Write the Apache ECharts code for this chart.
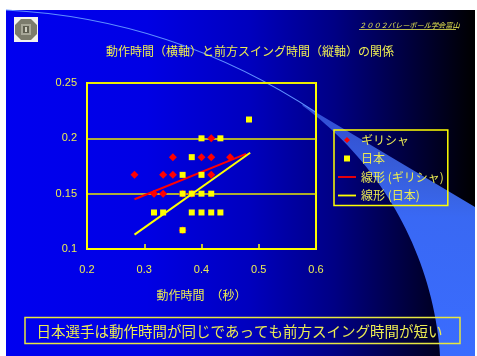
<!DOCTYPE html>
<html>
<head>
<meta charset="utf-8">
<script src="https://cdn.jsdelivr.net/npm/echarts@6/dist/echarts.min.js"></script>
<style>
  html, body { margin: 0; padding: 0; background: #ffffff; }
  #chart { width: 477px; height: 356px; }
</style>
</head>
<body>
<div id="chart"></div>
<script>
// Axis tick labels (seconds)
const xTickLabels = ['0.2', '0.3', '0.4', '0.5', '0.6'];
const yTickLabels = ['0.1', '0.15', '0.2', '0.25'];

// Greek players: motion time (x) vs forward swing time (y)
const greeceTime  = [0.283, 0.317, 0.333, 0.333, 0.35, 0.35, 0.4, 0.417, 0.417, 0.417, 0.45, 0.367, 0.367, 0.383];
const greeceSwing = [0.167, 0.15, 0.15, 0.167, 0.167, 0.183, 0.183, 0.183, 0.2, 0.167, 0.183, 0.117, 0.15, 0.15];

// Japanese players
const japanTime  = [0.483, 0.4, 0.433, 0.383, 0.367, 0.4, 0.367, 0.383, 0.4, 0.417, 0.317, 0.333, 0.383, 0.4, 0.417, 0.433, 0.367];
const japanSwing = [0.217, 0.2, 0.2, 0.183, 0.167, 0.167, 0.15, 0.15, 0.15, 0.15, 0.133, 0.133, 0.133, 0.133, 0.133, 0.133, 0.117];

// Linear trend lines (end points)
const greeceFitTime  = [0.283, 0.478];
const greeceFitSwing = [0.145, 0.186];
const japanFitTime   = [0.283, 0.485];
const japanFitSwing  = [0.113, 0.187];

const seriesNames = ['ギリシャ', '日本', '線形 (ギリシャ)', '線形 (日本)'];

const titleText = '動作時間（横軸）と前方スイング時間（縦軸）の関係';
const headerText = '２００２バレーボール学会富山';
const xAxisName = '動作時間　（秒）';
const noteText = '日本選手は動作時間が同じであっても前方スイング時間が短い';

const zip = (xs, ys) => xs.map((x, i) => [x, ys[i]]);

const YELLOW = '#ffff00';
const TEXT_YELLOW = '#ecec52';
const FONT = '"Liberation Sans", "Noto Sans CJK JP", sans-serif';
const JP_FONT = '"Noto Sans CJK JP", "Liberation Sans", sans-serif';

const xMin = parseFloat(xTickLabels[0]);
const xMax = parseFloat(xTickLabels[xTickLabels.length - 1]);
const yMin = parseFloat(yTickLabels[0]);
const yMax = parseFloat(yTickLabels[yTickLabels.length - 1]);

// Decorative sweep band: straight upper edge, circular lower-left edge
function sweepBandPoints() {
  const cx = 100, cy = 380, r = 341;
  const pts = [[302.6, 104], [317, 113], [475, 207], [475, 356], [440, 356]];
  const a0 = Math.atan2(356 - cy, 440 - cx);
  const a1 = Math.atan2(105.5 - cy, 302.6 - cx);
  const steps = 40;
  for (let i = 1; i <= steps; i++) {
    const a = a0 + (a1 - a0) * i / steps;
    pts.push([cx + r * Math.cos(a), cy + r * Math.sin(a)]);
  }
  return pts;
}

const LINE_ICON = 'path://M0,0L20,0L20,2L0,2Z';

const chart = echarts.init(document.getElementById('chart'), null, { renderer: 'canvas' });

const option = {
  backgroundColor: '#ffffff',
  animation: false,
  textStyle: { fontFamily: FONT },
  title: {
    text: titleText,
    left: 106,
    top: 45,
    padding: 0,
    textStyle: { color: TEXT_YELLOW, fontSize: 12, fontWeight: 'normal', fontFamily: JP_FONT }
  },
  grid: {
    left: 87, top: 83, width: 229, height: 166,
    show: true,
    borderColor: YELLOW,
    borderWidth: 2,
    backgroundColor: 'transparent'
  },
  xAxis: {
    type: 'value',
    min: xMin, max: xMax, interval: 0.1,
    axisLine: { show: true, lineStyle: { color: YELLOW, width: 2 } },
    axisTick: { show: true, inside: true, length: 5, lineStyle: { color: YELLOW, width: 1.5 } },
    axisLabel: { color: TEXT_YELLOW, fontSize: 11, margin: 15, fontFamily: FONT },
    splitLine: { show: false },
    name: xAxisName,
    nameLocation: 'middle',
    nameGap: 40,
    nameTextStyle: { color: TEXT_YELLOW, fontSize: 12, fontFamily: JP_FONT }
  },
  yAxis: {
    type: 'value',
    min: yMin, max: yMax, interval: 0.05,
    axisLine: { show: true, lineStyle: { color: YELLOW, width: 2 } },
    axisTick: { show: false },
    axisLabel: { color: TEXT_YELLOW, fontSize: 11, margin: 10, fontFamily: FONT },
    splitLine: { show: true, lineStyle: { color: '#e8e800', width: 1.5, opacity: 1 } }
  },
  legend: {
    orient: 'vertical',
    left: 334,
    top: 130,
    padding: [3, 4, 3, 4],
    borderColor: YELLOW,
    borderWidth: 1.5,
    itemWidth: 18,
    itemHeight: 6,
    itemGap: 4.5,
    symbolKeepAspect: true,
    textStyle: { color: TEXT_YELLOW, fontSize: 12, lineHeight: 14, fontFamily: JP_FONT },
    data: [
      { name: seriesNames[0], icon: 'path://M0,-1L1,0L0,1L-1,0Z' },
      { name: seriesNames[1], icon: 'path://M0,0L1,0L1,1L0,1Z' },
      { name: seriesNames[2], icon: LINE_ICON },
      { name: seriesNames[3], icon: LINE_ICON }
    ]
  },
  graphic: [
    // slide background: blue fading to black
    {
      type: 'rect', z: -20, silent: true,
      shape: { x: 6, y: 10, width: 469, height: 346 },
      style: {
        fill: new echarts.graphic.LinearGradient(0, 0, 1, 0, [
          { offset: 0, color: '#0000f0' },
          { offset: 0.3, color: '#0000e4' },
          { offset: 0.52, color: '#0000be' },
          { offset: 0.7, color: '#000084' },
          { offset: 0.88, color: '#000034' },
          { offset: 1, color: '#000000' }
        ])
      }
    },
    // light sweep band on the right
    {
      type: 'polygon', z: -19, silent: true,
      shape: { points: sweepBandPoints() },
      style: {
        fill: new echarts.graphic.LinearGradient(0, 0, 0, 1, [
          { offset: 0, color: 'rgba(80,125,255,0.6)' },
          { offset: 0.45, color: 'rgba(60,110,255,0.95)' },
          { offset: 1, color: '#3a6cff' }
        ])
      }
    },
    // thin sweep line across the top
    {
      type: 'bezierCurve', z: -19, silent: true,
      shape: { x1: 6, y1: 10, cpx1: 173.6, cpy1: 18.4, x2: 317, y2: 113 },
      style: { fill: null, stroke: '#5f8fff', lineWidth: 1.2 }
    },
    // emblem in the top-left corner
    {
      type: 'group', z: -18, silent: true,
      children: [
        { type: 'rect', shape: { x: 14, y: 17, width: 24, height: 25 }, style: { fill: '#f2f2ee' } },
        { type: 'polygon', shape: { points: [[21, 19], [31, 19], [37, 25], [37, 34], [31, 40], [21, 40], [15, 34], [15, 25]] }, style: { fill: '#7c7c6c' } },
        { type: 'rect', shape: { x: 21, y: 24, width: 10, height: 11 }, style: { fill: '#a8a898' } },
        { type: 'rect', shape: { x: 23, y: 26, width: 6, height: 7 }, style: { fill: '#5e5e50' } },
        { type: 'rect', shape: { x: 25, y: 27, width: 2, height: 5 }, style: { fill: '#cfcfc0' } }
      ]
    },
    // header text with underline
    {
      type: 'text', z: 5, silent: true,
      style: {
        x: 359, y: 25, text: headerText,
        fill: TEXT_YELLOW, fontSize: 7.2, fontStyle: 'italic', fontFamily: JP_FONT,
        verticalAlign: 'middle'
      }
    },
    {
      type: 'line', z: 5, silent: true,
      shape: { x1: 359, y1: 29.5, x2: 456, y2: 29.5 },
      style: { stroke: TEXT_YELLOW, lineWidth: 0.8 }
    },
    // conclusion box
    {
      type: 'rect', z: 5, silent: true,
      shape: { x: 25, y: 317.5, width: 435, height: 26 },
      style: { fill: null, stroke: '#e6e640', lineWidth: 1.5 }
    },
    {
      type: 'text', z: 5, silent: true,
      style: {
        x: 239.5, y: 331, text: noteText,
        fill: TEXT_YELLOW, fontSize: 14.5, fontFamily: JP_FONT,
        align: 'center', verticalAlign: 'middle'
      }
    }
  ],
  series: [
    {
      name: seriesNames[0],
      type: 'scatter',
      symbol: 'diamond',
      symbolSize: 8,
      itemStyle: { color: '#ff0000', opacity: 1 },
      data: zip(greeceTime, greeceSwing),
      z: 3
    },
    {
      name: seriesNames[2],
      type: 'line',
      symbol: 'none',
      lineStyle: { color: '#ff0000', width: 2 },
      itemStyle: { color: '#ff0000' },
      data: zip(greeceFitTime, greeceFitSwing),
      z: 4
    },
    {
      name: seriesNames[1],
      type: 'scatter',
      symbol: 'rect',
      symbolSize: 6,
      itemStyle: { color: '#ffff00', opacity: 1 },
      data: zip(japanTime, japanSwing),
      z: 5
    },
    {
      name: seriesNames[3],
      type: 'line',
      symbol: 'none',
      lineStyle: { color: '#ffff00', width: 2 },
      itemStyle: { color: '#ffff00' },
      data: zip(japanFitTime, japanFitSwing),
      z: 6
    }
  ]
};

chart.setOption(option);
</script>
</body>
</html>
